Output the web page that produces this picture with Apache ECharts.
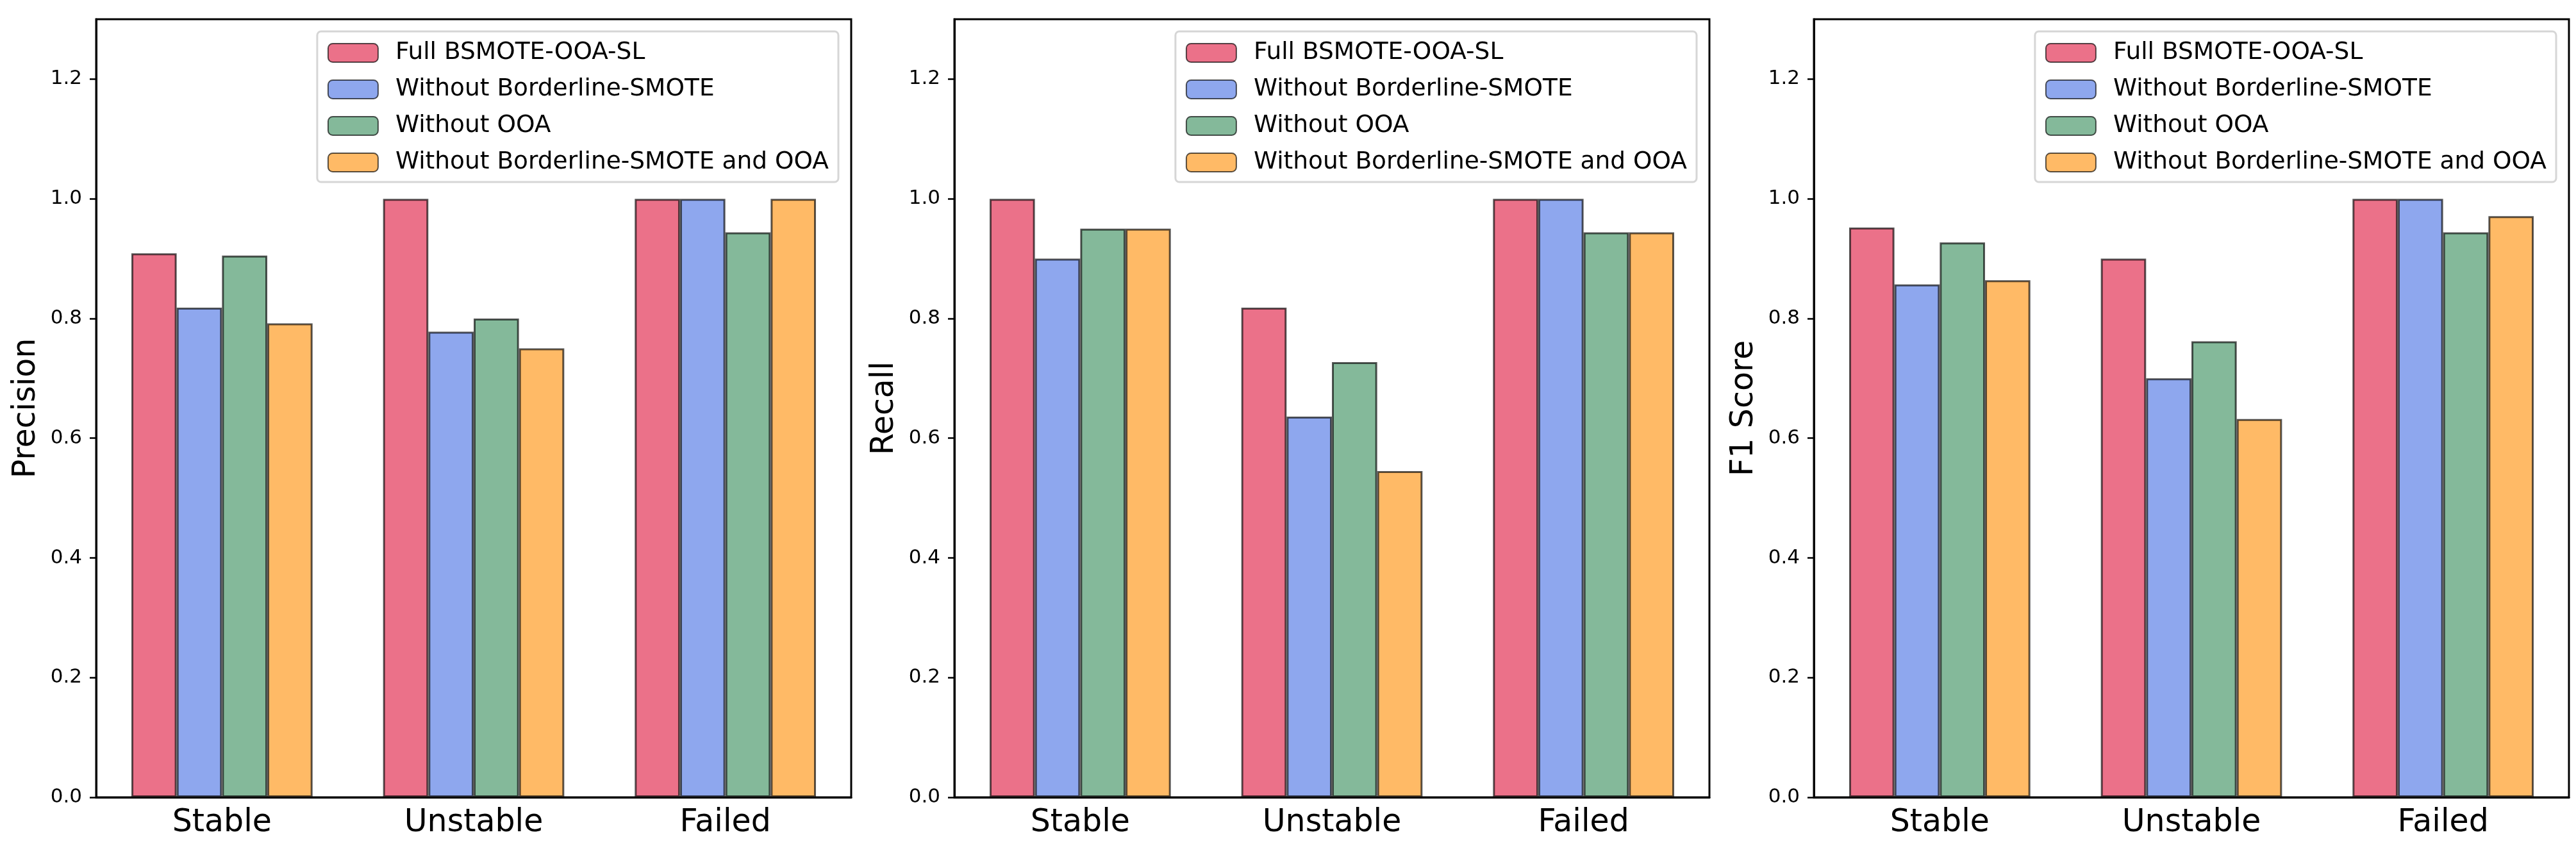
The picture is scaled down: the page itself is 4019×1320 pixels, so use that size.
<!DOCTYPE html>
<html>
<head>
<meta charset="utf-8">
<script src="https://cdn.jsdelivr.net/npm/echarts@6/dist/echarts.min.js"></script>
<style>
  html, body { margin: 0; padding: 0; background: #fff; }
  #main { width: 4019px; height: 1320px; }
</style>
</head>
<body>
<div id="main"></div>
<script>
// data
var categories = ['Stable', 'Unstable', 'Failed'];
var methods = ['Full BSMOTE-OOA-SL', 'Without Borderline-SMOTE', 'Without OOA', 'Without Borderline-SMOTE and OOA'];
var metricNames = ['Precision', 'Recall', 'F1 Score'];
var yTicks = [0, 0.2, 0.4, 0.6, 0.8, 1.0, 1.2];

// rows follow the order of methods, columns follow categories
var precision = [
  [0.909, 1.0, 1.0],
  [0.818, 0.778, 1.0],
  [0.905, 0.8, 0.944],
  [0.792, 0.75, 1.0]
];
var recall = [
  [1.0, 0.818, 1.0],
  [0.9, 0.636, 1.0],
  [0.95, 0.727, 0.944],
  [0.95, 0.545, 0.944]
];
var f1 = [
  [0.952, 0.9, 1.0],
  [0.857, 0.7, 1.0],
  [0.927, 0.762, 0.944],
  [0.864, 0.632, 0.971]
];

var colors = ['#eb7189', '#8ea7ee', '#84b99a', '#ffba66'];
var font = 'DejaVu Sans';
var metrics = [precision, recall, f1];
var gridLefts = [150, 1489, 2830];
var plotW = 1178;

var grids = [], xAxes = [], yAxes = [], legends = [], series = [];

for (var i = 0; i < 3; i++) {
  grids.push({
    left: gridLefts[i], top: 30, width: plotW, height: 1214,
    show: true, borderColor: '#000', borderWidth: 3, backgroundColor: 'transparent'
  });
  xAxes.push({
    type: 'category', gridIndex: i, data: categories,
    axisLine: { lineStyle: { color: '#000', width: 3 } },
    axisTick: { alignWithLabel: true, length: 10, lineStyle: { color: '#000', width: 2.5 } },
    axisLabel: { color: '#000', fontFamily: font, fontSize: 49, margin: 16 }
  });
  yAxes.push({
    type: 'value', gridIndex: i, min: 0, max: 1.3, interval: 0.2,
    name: metricNames[i], nameLocation: 'middle', nameGap: 84,
    nameTextStyle: { color: '#000', fontFamily: font, fontSize: 49 },
    axisLine: { show: true, lineStyle: { color: '#000', width: 3 } },
    axisTick: { show: true, length: 10, customValues: yTicks, lineStyle: { color: '#000', width: 2.5 } },
    axisLabel: {
      color: '#000', fontFamily: font, fontSize: 31, margin: 22, customValues: yTicks,
      formatter: function (v) { return v.toFixed(1); }
    },
    splitLine: { show: false }
  });
  legends.push({
    data: methods, orient: 'vertical',
    right: 4019 - (gridLefts[i] + plotW - 20), top: 49,
    itemWidth: 78, itemHeight: 29, itemGap: 17,
    padding: [13.5, 15, 10.5, 16],
    backgroundColor: '#fff', borderColor: '#d6d6d6', borderWidth: 3, borderRadius: 6,
    textStyle: { color: '#000', fontFamily: font, fontSize: 37.5, lineHeight: 40, padding: [0, 0, 0, 22] },
    selectedMode: false
  });
  for (var m = 0; m < methods.length; m++) {
    series.push({
      type: 'bar', name: methods[m], xAxisIndex: i, yAxisIndex: i,
      data: metrics[i][m],
      barWidth: '18%', barGap: '0%',
      itemStyle: { color: colors[m], borderColor: 'rgba(0,0,0,0.65)', borderWidth: 3 },
      emphasis: { disabled: true },
      animation: false
    });
  }
}

var chart = echarts.init(document.getElementById('main'), null, { renderer: 'canvas' });
chart.setOption({
  backgroundColor: '#fff',
  animation: false,
  grid: grids,
  xAxis: xAxes,
  yAxis: yAxes,
  legend: legends,
  series: series
});
</script>
</body>
</html>
